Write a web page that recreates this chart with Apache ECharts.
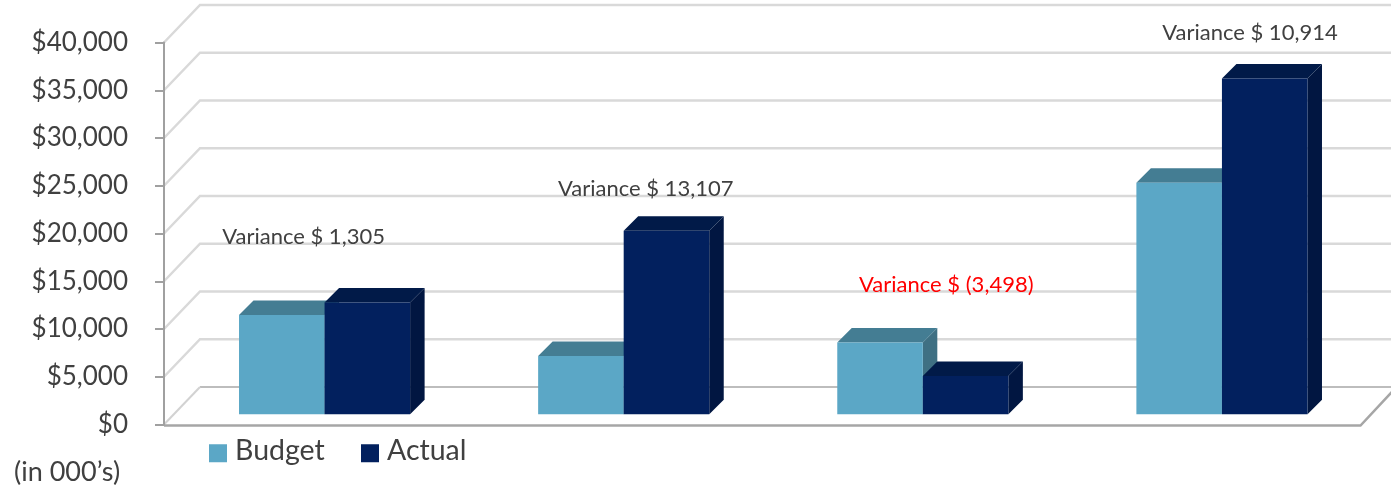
<!DOCTYPE html>
<html>
<head>
<meta charset="utf-8">
<script src="https://cdn.jsdelivr.net/npm/echarts@6/dist/echarts.min.js"></script>
<style>
  html, body { margin: 0; padding: 0; background: #fff; }
  #chart { width: 1391px; height: 488px; }
</style>
</head>
<body>
<div id="chart"></div>
<script>
// Budget vs. actual, in thousands of dollars
const categories = ['1', '2', '3', '4'];
const budget = [10390, 6100, 7520, 24250];
const actual = [11695, 19207, 4022, 35164];
const yTicks = [0, 5000, 10000, 15000, 20000, 25000, 30000, 35000, 40000];

const FONT = 'Lato, "Open Sans", sans-serif';
const TEXT = '#404040';

// Oblique depth: back wall offset, bar placement depth, bar thickness
const WALL = [36, -37.5];
const BAR_SHIFT = [11, -10.2];
const BAR_DEPTH = [14.5, -14.5];

const COLORS = {
  Budget: { front: '#5BA7C6', top: '#447D93', side: '#3F7083' },
  Actual: { front: '#02205E', top: '#011A48', side: '#011641' }
};

// Hand-placed label nudges (px) relative to the taller bar of each pair
const LABEL_NUDGE = [[-21, -66], [22, -42], [23.5, -58], [28, -46]];

function fmt(n) {
  return Math.abs(n).toLocaleString('en-US');
}
function varianceText(v) {
  return v < 0 ? 'Variance $ (' + fmt(v) + ')' : 'Variance $ ' + fmt(v);
}

function barRenderer(name, slot) {
  const c = COLORS[name];
  return function (params, api) {
    const i = api.value(0);
    const v = api.value(1);
    const base = api.coord([i, 0]);
    const topPt = api.coord([i, v]);
    const bw = api.size([1, 0])[0] * 0.286;
    const cx = base[0] + BAR_SHIFT[0];
    const x1 = slot === 0 ? cx - bw : cx;
    const x2 = x1 + bw;
    const yb = base[1] + BAR_SHIFT[1];
    const yt = topPt[1] + BAR_SHIFT[1];
    const dx = BAR_DEPTH[0], dy = BAR_DEPTH[1];
    return {
      type: 'group',
      children: [
        { type: 'polygon', shape: { points: [[x2, yt], [x2 + dx, yt + dy], [x2 + dx, yb + dy], [x2, yb]] },
          style: { fill: c.side } },
        { type: 'polygon', shape: { points: [[x1, yt], [x2, yt], [x2 + dx, yt + dy], [x1 + dx, yt + dy]] },
          style: { fill: c.top } },
        { type: 'rect', shape: { x: x1, y: yt, width: x2 - x1, height: yb - yt },
          style: { fill: c.front } }
      ]
    };
  };
}

function wallRenderer(params, api) {
  const cs = params.coordSys;
  const v = api.value(1);
  const y = api.coord([0, v])[1];
  const x0 = cs.x, xr = cs.x + cs.width;
  const bx = x0 + WALL[0], by = y + WALL[1];
  if (v === 0) {
    return {
      type: 'group',
      children: [
        { type: 'polyline', shape: { points: [[bx, by], [xr + WALL[0] + 10, by]] },
          style: { stroke: '#bdbdbd', lineWidth: 2, fill: null } },
        { type: 'polyline', shape: { points: [[x0, y], [bx, by]] },
          style: { stroke: '#d2d2d2', lineWidth: 2, fill: null } },
        { type: 'polyline', shape: { points: [[x0, y + 1], [xr, y + 1], [xr + WALL[0], by]] },
          style: { stroke: '#a6a6a6', lineWidth: 2.5, fill: null } }
      ]
    };
  }
  return {
    type: 'polyline',
    shape: { points: [[x0, y], [bx, by], [xr + WALL[0] + 10, by]] },
    style: { stroke: '#d9d9d9', lineWidth: 2.5, fill: null }
  };
}

function labelRenderer(params, api) {
  const i = api.value(0);
  const top = api.coord([i, Math.max(budget[i], actual[i])]);
  const variance = actual[i] - budget[i];
  const nudge = LABEL_NUDGE[i];
  return {
    type: 'text',
    x: top[0] + BAR_SHIFT[0] + nudge[0],
    y: top[1] + BAR_SHIFT[1] + nudge[1],
    style: {
      text: varianceText(variance),
      fill: variance < 0 ? '#FF0000' : TEXT,
      font: '22px ' + FONT,
      align: 'center',
      verticalAlign: 'middle'
    }
  };
}

// Legend text sits a touch above the swatch centre
const legendText = {
  fontFamily: FONT, fontSize: 28.5, color: TEXT,
  rich: { t: { fontFamily: FONT, fontSize: 28.5, color: TEXT, padding: [0, 0, 5.5, 3] } }
};
const legendFormatter = name => '{t|' + name + '}';

const chart = echarts.init(document.getElementById('chart'), null, { renderer: 'canvas' });
chart.setOption({
  animation: false,
  backgroundColor: '#ffffff',
  grid: { left: 164, right: 30.5, top: 42.5, bottom: 63.5, containLabel: false },
  legend: [
    { data: ['Budget'], left: 209, top: 436, padding: 0, itemWidth: 18, itemHeight: 18, icon: 'rect',
      formatter: legendFormatter, textStyle: legendText },
    { data: ['Actual'], left: 361, top: 436, padding: 0, itemWidth: 18, itemHeight: 18, icon: 'rect',
      formatter: legendFormatter, textStyle: legendText }
  ],
  graphic: [
    { type: 'text', left: 14, top: 459,
      style: { text: '(in 000\u2019s)', font: '27px ' + FONT, fill: TEXT } }
  ],
  xAxis: {
    type: 'category',
    data: categories,
    boundaryGap: true,
    axisLine: { show: false },
    axisTick: { show: false },
    axisLabel: { show: false },
    splitLine: { show: false }
  },
  yAxis: {
    type: 'value',
    min: 0,
    max: 40000,
    interval: 5000,
    z: 3,
    axisLine: { show: true, lineStyle: { color: '#a0a0a0', width: 2 } },
    axisTick: { show: true, length: 9, lineStyle: { color: '#a0a0a0', width: 2 } },
    splitLine: { show: false },
    axisLabel: {
      margin: 36,
      fontFamily: FONT,
      fontSize: 26,
      color: TEXT,
      formatter: v => '$' + v.toLocaleString('en-US')
    }
  },
  series: [
    { name: 'wall', type: 'custom', z: 1, silent: true,
      data: yTicks.map(v => [0, v]), renderItem: wallRenderer },
    { name: 'Budget', type: 'custom', z: 2, itemStyle: { color: COLORS.Budget.front },
      encode: { x: 0, y: 1 },
      data: budget.map((v, i) => [i, v]), renderItem: barRenderer('Budget', 0) },
    { name: 'Actual', type: 'custom', z: 3, itemStyle: { color: COLORS.Actual.front },
      encode: { x: 0, y: 1 },
      data: actual.map((v, i) => [i, v]), renderItem: barRenderer('Actual', 1) },
    { name: 'variance', type: 'custom', z: 4, silent: true,
      data: categories.map((c, i) => [i, Math.max(budget[i], actual[i])]), renderItem: labelRenderer }
  ]
});
</script>
</body>
</html>
